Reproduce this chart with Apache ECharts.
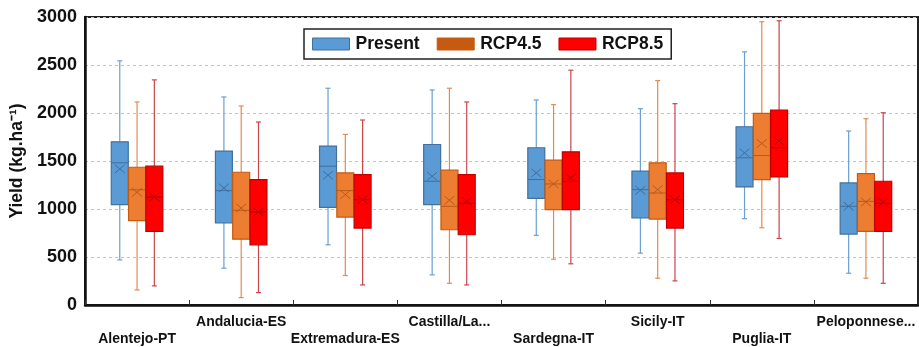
<!DOCTYPE html>
<html><head><meta charset="utf-8">
<script src="https://cdn.jsdelivr.net/npm/echarts@6/dist/echarts.min.js"></script>
<style>html,body{margin:0;padding:0;background:#fff}#c{width:919px;height:347px}</style>
</head><body><div id="c"></div>
<script>
const categories = ['Alentejo-PT','Andalucia-ES','Extremadura-ES','Castilla/La...','Sardegna-IT','Sicily-IT','Puglia-IT','Peloponnese...'];
const seriesNames = ['Present','RCP4.5','RCP8.5'];
const yTicks = [0,500,1000,1500,2000,2500,3000];
// each row: [min, Q1, median, Q3, max, mean]
const present = [
  [470,1045,1481,1700,2543,1418],
  [383,854,1192,1603,2167,1220],
  [627,1017,1446,1655,2258,1352],
  [314,1045,1289,1672,2240,1341],
  [725,1111,1307,1638,2136,1376],
  [540,906,1202,1394,2045,1195],
  [899,1230,1533,1857,2637,1585],
  [331,739,1028,1272,1812,1028]
];
const rcp45 = [
  [157,878,1200,1435,2115,1174],
  [77,686,986,1383,2073,1010],
  [307,916,1192,1376,1777,1150],
  [226,784,1028,1404,2258,1091],
  [477,993,1261,1509,2087,1261],
  [279,895,1167,1481,2338,1202],
  [805,1307,1557,1996,2951,1683],
  [279,766,1080,1369,1941,1073]
];
const rcp85 = [
  [199,766,1125,1446,2345,1125],
  [129,627,969,1307,1906,969],
  [209,801,1097,1359,1927,1097],
  [209,732,1060,1359,2115,1080],
  [429,993,1289,1596,2446,1324],
  [251,801,1097,1376,2097,1097],
  [693,1334,1637,2031,2961,1707],
  [226,766,1060,1289,2003,1070]
];

const styles = [
  {fill:'#5B9BD5', border:'#41719C', whisker:'#6A9FD0', mark:'#3E6E9E', legend:'#5B9BD5'},
  {fill:'#ED7D31', border:'#C55A11', whisker:'#E58A4E', mark:'#B85A1B', legend:'#C55A11'},
  {fill:'#FF0000', border:'#C00000', whisker:'#C8454A', mark:'#B00000', legend:'#FF0000'}
];
const dataSets = [present, rcp45, rcp85];

function makeRender(si){
  const st = styles[si];
  return function(params, api){
    const ci = api.value(0);
    const band = api.size([1,0])[0];
    const off = (si-1)*band*0.166;
    const bw = band*0.163;
    const cx = api.coord([ci,0])[0] + off;
    const y = k => api.coord([ci, api.value(k)])[1];
    const yMin=y(1), yQ1=y(2), yMed=y(3), yQ3=y(4), yMax=y(5), yMean=y(6);
    const cap = 2.5, xs = 5, ys = 4.2;
    const ws = {stroke: st.whisker, lineWidth: 1.2};
    const ms = {stroke: st.mark, lineWidth: 1};
    return {type:'group', children:[
      {type:'line', shape:{x1:cx,y1:yMax,x2:cx,y2:yMin}, style:ws},
      {type:'line', shape:{x1:cx-cap,y1:yMax,x2:cx+cap,y2:yMax}, style:ws},
      {type:'line', shape:{x1:cx-cap,y1:yMin,x2:cx+cap,y2:yMin}, style:ws},
      {type:'rect', shape:{x:cx-bw/2, y:yQ3, width:bw, height:yQ1-yQ3}, style:{fill:st.fill, stroke:st.border, lineWidth:1.2}},
      {type:'line', shape:{x1:cx-bw/2,y1:yMed,x2:cx+bw/2,y2:yMed}, style:ms},
      {type:'line', shape:{x1:cx-xs,y1:yMean-ys,x2:cx+xs,y2:yMean+ys}, style:ms},
      {type:'line', shape:{x1:cx-xs,y1:yMean+ys,x2:cx+xs,y2:yMean-ys}, style:ms}
    ]};
  };
}

const series = seriesNames.map((name, si) => ({
  name: name,
  type: 'custom',
  renderItem: makeRender(si),
  itemStyle: {color: styles[si].legend, borderColor: styles[si].border, borderWidth: 1},
  encode: {x: 0, y: [1,2,3,4,5,6]},
  data: dataSets[si].map((r, i) => [i].concat(r))
}));

const chart = echarts.init(document.getElementById('c'), null, {renderer:'canvas'});
chart.setOption({
  animation: false,
  textStyle: {fontFamily: 'Liberation Sans, Arial, sans-serif'},
  grid: {left: 85, right: 1, top: 17, bottom: 42, show: true, borderColor: '#222', borderWidth: 2,
         containLabel: false, outerBoundsMode: 'none'},
  legend: {
    left: 304, top: 29,
    data: seriesNames.map((n, i) => ({name: n, itemStyle: {color: styles[i].legend, borderColor: styles[i].border, borderWidth: 1}})),
    icon: 'rect',
    itemWidth: 37, itemHeight: 12, itemGap: 17,
    padding: [6, 8, 6, 8],
    borderColor: '#222', borderWidth: 1.5, backgroundColor: '#fff',
    textStyle: {fontSize: 17.5, fontWeight: 'bold', color: '#111', fontFamily: 'Liberation Sans, Arial, sans-serif', padding: [0,0,0,1]}
  },
  xAxis: {
    type: 'category',
    data: categories,
    boundaryGap: true,
    axisLine: {lineStyle: {color: '#111', width: 2.5}},
    axisTick: {show: true, inside: true, length: 5, alignWithLabel: false, lineStyle: {color: '#333', width: 1}},
    axisLabel: {
      interval: 0, fontSize: 14, fontWeight: 'bold', color: '#111', margin: 9, lineHeight: 17,
      formatter: (v, i) => i % 2 === 0 ? '\n' + v : v
    },
    splitLine: {show: false}
  },
  yAxis: {
    type: 'value', min: 0, max: 3000, interval: 500,
    name: 'Yield (kg.ha\u207B\u00B9)',
    nameLocation: 'middle', nameGap: 58, nameRotate: 90,
    nameTextStyle: {fontSize: 17.5, fontWeight: 'bold', color: '#111'},
    axisLine: {show: true, lineStyle: {color: '#111', width: 2.5}},
    axisTick: {show: false},
    axisLabel: {fontSize: 18, fontWeight: 'bold', color: '#111', margin: 8,
      formatter: v => yTicks.indexOf(v) >= 0 ? String(v) : ''},
    splitLine: {show: true, lineStyle: {color: '#c4c4c4', type: [3, 3], width: 1}}
  },
  series: series
});
</script></body></html>
